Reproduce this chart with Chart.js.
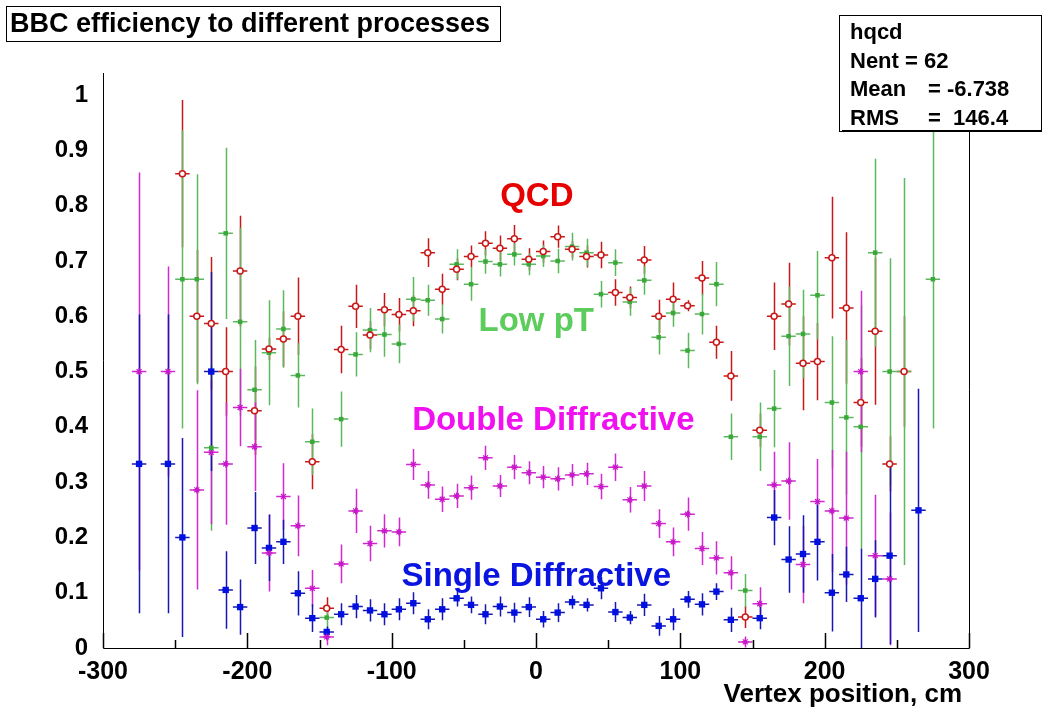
<!DOCTYPE html>
<html>
<head>
<meta charset="utf-8">
<title>BBC efficiency to different processes</title>
<script src="https://cdn.jsdelivr.net/npm/chart.js@4.4.0/dist/chart.umd.min.js"></script>
<style>
  html, body { margin: 0; padding: 0; background: #fff; }
  canvas { display: block; }
</style>
</head>
<body>
<canvas id="bbcChart" width="1047" height="707"></canvas>
<script>
// bin centres (10 cm bins)
const binCenters = [-275, -265, -255, -245, -235, -225, -215, -205, -195, -185, -175, -165, -155, -145,
  -135, -125, -115, -105, -95, -85, -75, -65, -55, -45, -35, -25, -15, -5,
  5, 15, 25, 35, 45, 55, 65, 75, 85, 95, 105, 115, 125, 135,
  145, 155, 165, 175, 185, 195, 205, 215, 225, 235, 245, 255, 265, 275];

// QCD
const qcdEff = [null, null, null, 0.858, 0.600, 0.587, 0.500, 0.682, 0.429, 0.541, 0.559, 0.600, 0.337, 0.072,
  0.540, 0.618, 0.566, 0.612, 0.603, 0.610, 0.715, 0.649, 0.685, 0.708, 0.732, 0.723, 0.740, 0.703,
  0.717, 0.744, 0.721, 0.708, 0.711, 0.643, 0.634, 0.702, 0.600, 0.631, 0.619, 0.669, 0.553, 0.492,
  0.056, 0.394, 0.600, 0.622, 0.515, 0.518, 0.706, 0.615, 0.444, 0.573, 0.333, 0.500, null, null];
const qcdErr = [null, null, null, 0.133, 0.12, 0.12, 0.08, 0.10, 0.08, 0.02, 0.05, 0.07, 0.05, 0.02,
  0.043, 0.039, 0.025, 0.03, 0.03, 0.028, 0.026, 0.028, 0.02, 0.02, 0.022, 0.023, 0.025, 0.02,
  0.02, 0.02, 0.015, 0.02, 0.024, 0.024, 0.02, 0.025, 0.03, 0.03, 0.01, 0.031, 0.03, 0.045,
  0.02, 0.03, 0.061, 0.075, 0.085, 0.07, 0.11, 0.137, 0.08, 0.133, 0.05, 0.10, null, null];

// Low pT
const lowPtEff = [null, null, null, 0.667, 0.667, 0.362, 0.750, 0.590, 0.467, 0.534, 0.577, 0.493, 0.373, 0.055,
  0.414, 0.531, 0.575, 0.567, 0.550, 0.631, 0.629, 0.595, 0.694, 0.658, 0.699, 0.694, 0.712, 0.694,
  0.709, 0.700, 0.726, 0.715, 0.640, 0.697, 0.626, 0.665, 0.562, 0.606, 0.538, 0.604, 0.658, 0.382,
  0.104, 0.382, 0.433, 0.564, 0.568, 0.638, 0.444, 0.417, 0.400, 0.715, 0.500, 0.500, null, 0.667];
const lowPtErr = [null, null, null, 0.27, 0.19, 0.15, 0.155, 0.17, 0.09, 0.095, 0.07, 0.058, 0.06, 0.02,
  0.05, 0.04, 0.04, 0.04, 0.035, 0.04, 0.028, 0.026, 0.027, 0.03, 0.022, 0.022, 0.02, 0.02,
  0.02, 0.022, 0.025, 0.025, 0.024, 0.024, 0.025, 0.026, 0.031, 0.025, 0.032, 0.037, 0.04, 0.042,
  0.03, 0.062, 0.07, 0.09, 0.08, 0.08, 0.12, 0.14, 0.22, 0.17, 0.205, 0.35, null, 0.27];

// Double Diffractive
const ddEff = [0.500, null, 0.500, null, 0.286, 0.354, 0.333, 0.435, 0.364, 0.172, 0.274, 0.221, 0.108, 0.020,
  0.152, 0.248, 0.189, 0.212, 0.210, 0.332, 0.295, 0.269, 0.275, 0.290, 0.344, 0.293, 0.327, 0.317,
  0.309, 0.306, 0.313, 0.315, 0.292, 0.327, 0.268, 0.293, 0.225, 0.192, 0.242, 0.180, 0.163, 0.136,
  0.011, 0.080, 0.295, 0.302, 0.151, 0.265, 0.248, 0.235, 0.500, 0.167, 0.125, null, null, null];
const ddErr = [0.36, null, 0.19, null, 0.18, 0.13, 0.11, 0.07, 0.08, 0.07, 0.06, 0.055, 0.033, 0.015,
  0.035, 0.04, 0.032, 0.03, 0.026, 0.028, 0.025, 0.023, 0.022, 0.022, 0.022, 0.02, 0.022, 0.021,
  0.02, 0.021, 0.02, 0.02, 0.023, 0.025, 0.023, 0.027, 0.026, 0.026, 0.03, 0.03, 0.03, 0.03,
  0.01, 0.03, 0.06, 0.07, 0.07, 0.077, 0.11, 0.12, 0.146, 0.11, 0.12, null, null, null];

// Single Diffractive
const sdEff = [0.333, null, 0.333, 0.200, null, 0.500, 0.105, 0.074, 0.217, 0.181, 0.192, 0.099, 0.054, 0.029,
  0.061, 0.075, 0.068, 0.061, 0.070, 0.081, 0.052, 0.070, 0.090, 0.078, 0.061, 0.075, 0.064, 0.074,
  0.052, 0.064, 0.083, 0.078, 0.108, 0.065, 0.055, 0.078, 0.040, 0.052, 0.088, 0.079, 0.102, 0.051,
  null, 0.054, 0.236, 0.160, 0.170, 0.192, 0.100, 0.133, 0.090, 0.125, 0.167, null, 0.249, null];
const sdErr = [0.27, null, 0.27, 0.18, null, 0.18, 0.07, 0.05, 0.065, 0.06, 0.04, 0.04, 0.025, 0.01,
  0.02, 0.021, 0.02, 0.02, 0.02, 0.02, 0.018, 0.02, 0.015, 0.015, 0.018, 0.018, 0.018, 0.018,
  0.015, 0.017, 0.012, 0.012, 0.02, 0.018, 0.012, 0.02, 0.018, 0.02, 0.015, 0.02, 0.015, 0.022,
  null, 0.02, 0.05, 0.06, 0.07, 0.07, 0.07, 0.05, 0.09, 0.07, 0.16, null, 0.22, null];

const xTickValues = [-300, -200, -100, 0, 100, 200, 300];
const xMinorTicks = [-250, -150, -50, 50, 150, 250];
const yTickValues = [0, 0.1, 0.2, 0.3, 0.4, 0.5, 0.6, 0.7, 0.8, 0.9, 1];

const statLines = [['hqcd', ''], ['Nent = 62', ''], ['Mean', '= -6.738'], ['RMS', '=  146.4']];

const FONT = "'Liberation Sans', Arial, Helvetica, sans-serif";
const HALF_BIN = 5;

function toPoints(vals, errs) {
  const pts = [];
  binCenters.forEach((x, i) => {
    if (vals[i] !== null) pts.push({ x: x, y: vals[i], err: errs[i] });
  });
  return pts;
}

// vertical + horizontal error bars, drawn under the markers
const errorBars = {
  id: 'errorBars',
  beforeDatasetsDraw(chart) {
    const { ctx, scales: { x, y } } = chart;
    ctx.save();
    chart.data.datasets.forEach(ds => {
      ctx.strokeStyle = ds.barColor;
      ctx.lineWidth = 1.5;
      ds.data.forEach(p => {
        const px = Math.round(x.getPixelForValue(p.x)) + 0.5;
        const py = y.getPixelForValue(p.y);
        ctx.beginPath();
        ctx.moveTo(px, y.getPixelForValue(Math.min(1, p.y + p.err)));
        ctx.lineTo(px, y.getPixelForValue(Math.max(0, p.y - p.err)));
        ctx.moveTo(x.getPixelForValue(p.x - HALF_BIN), py);
        ctx.lineTo(x.getPixelForValue(p.x + HALF_BIN), py);
        ctx.stroke();
      });
    });
    ctx.restore();
  }
};

// frame, inward ticks, labels, title box and stats box
const decorations = {
  id: 'decorations',
  afterDraw(chart) {
    const { ctx, chartArea: a, scales: { x, y } } = chart;
    ctx.save();
    ctx.strokeStyle = '#000';
    ctx.lineWidth = 1;

    // axes / frame
    ctx.beginPath();
    ctx.moveTo(a.left + 0.5, a.top);
    ctx.lineTo(a.left + 0.5, a.bottom + 0.5);
    ctx.lineTo(a.right + 0.5, a.bottom + 0.5);
    ctx.lineTo(a.right + 0.5, 131);
    ctx.stroke();

    // x ticks pointing up
    ctx.lineWidth = 1.5;
    ctx.beginPath();
    xTickValues.forEach(v => {
      const px = Math.round(x.getPixelForValue(v)) + 0.5;
      ctx.moveTo(px, a.bottom); ctx.lineTo(px, a.bottom - 15);
    });
    xMinorTicks.forEach(v => {
      const px = Math.round(x.getPixelForValue(v)) + 0.5;
      ctx.moveTo(px, a.bottom); ctx.lineTo(px, a.bottom - 8);
    });
    ctx.stroke();

    // process labels
    const notes = [
      ['QCD', 0.6, 0.816, '#e60000'],
      ['Low pT', 0.2, 0.589, '#5ccc5c'],
      ['Double Diffractive', 12, 0.41, '#f010f0'],
      ['Single Diffractive', 0.2, 0.128, '#0a14e0']
    ];
    ctx.font = 'bold 33px ' + FONT;
    ctx.textAlign = 'center';
    ctx.textBaseline = 'middle';
    notes.forEach(([t, vx, vy, c]) => {
      ctx.fillStyle = c;
      ctx.fillText(t, x.getPixelForValue(vx), y.getPixelForValue(vy));
    });

    // x axis title
    ctx.fillStyle = '#000';
    ctx.font = 'bold 26px ' + FONT;
    ctx.textAlign = 'right';
    ctx.textBaseline = 'alphabetic';
    ctx.fillText('Vertex position, cm', 962, 702);

    // title box
    ctx.lineWidth = 1;
    ctx.fillStyle = '#fff';
    ctx.fillRect(6, 6, 494, 35);
    ctx.strokeRect(6.5, 6.5, 494, 35);
    ctx.fillStyle = '#000';
    ctx.font = 'bold 27px ' + FONT;
    ctx.textAlign = 'left';
    ctx.fillText('BBC efficiency to different processes', 10, 32);

    // stats box
    ctx.fillStyle = '#fff';
    ctx.fillRect(839, 15, 202, 116);
    ctx.strokeRect(839.5, 15.5, 202, 116);
    ctx.lineWidth = 2;
    ctx.beginPath();
    ctx.moveTo(842, 131); ctx.lineTo(1041, 131);
    ctx.stroke();
    ctx.fillStyle = '#000';
    ctx.font = 'bold 22px ' + FONT;
    statLines.forEach(([lab, val], i) => {
      const by = 39 + i * 28.7;
      ctx.fillText(lab, 850, by);
      if (val) ctx.fillText(val, 928, by);
    });
    ctx.restore();
  }
};

Chart.defaults.font.family = FONT;

new Chart(document.getElementById('bbcChart').getContext('2d'), {
  type: 'scatter',
  data: {
    datasets: [
      {
        label: 'QCD', data: toPoints(qcdEff, qcdErr),
        barColor: '#c81818', borderColor: '#c81818', backgroundColor: '#ffffff',
        pointStyle: 'circle', pointRadius: 3, pointBorderWidth: 1.5
      },
      {
        label: 'Low pT', data: toPoints(lowPtEff, lowPtErr),
        barColor: '#5cb85c', borderColor: '#3aa83a', backgroundColor: '#3aa83a',
        pointStyle: 'rect', pointRadius: 3.2, pointBorderWidth: 0
      },
      {
        label: 'Double Diffractive', data: toPoints(ddEff, ddErr),
        barColor: '#d02ad0', borderColor: '#c818c8', backgroundColor: '#c818c8',
        pointStyle: 'star', pointRadius: 3.5, pointBorderWidth: 1.2
      },
      {
        label: 'Single Diffractive', data: toPoints(sdEff, sdErr),
        barColor: '#1818b0', borderColor: '#0010e0', backgroundColor: '#0010e0',
        pointStyle: 'rect', pointRadius: 4.5, pointBorderWidth: 0
      }
    ]
  },
  options: {
    responsive: false,
    animation: false,
    devicePixelRatio: 1,
    layout: { padding: { left: 0, right: 78, top: 73, bottom: 0 } },
    plugins: { legend: { display: false }, tooltip: { enabled: false } },
    scales: {
      x: {
        type: 'linear', min: -300, max: 300,
        afterFit: s => { s.height = 59; },
        afterBuildTicks: s => { s.ticks = xTickValues.map(v => ({ value: v })); },
        grid: { display: false, drawTicks: false },
        border: { display: false },
        ticks: { color: '#000', padding: 9, font: { size: 25, weight: 'bold' }, maxRotation: 0,
          callback: v => String(v) }
      },
      y: {
        type: 'linear', min: 0, max: 1.04,
        afterFit: s => { s.width = 103; },
        afterBuildTicks: s => { s.ticks = yTickValues.map(v => ({ value: v })); },
        grid: { display: false, drawTicks: false },
        border: { display: false },
        ticks: { color: '#000', padding: 15, font: { size: 24, weight: 'bold' },
          callback: v => String(v) }
      }
    }
  },
  plugins: [errorBars, decorations]
});
</script>
</body>
</html>
